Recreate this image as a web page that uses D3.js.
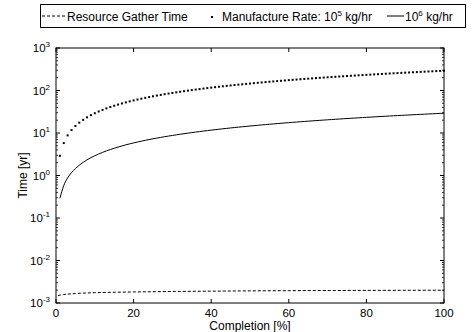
<!DOCTYPE html>
<html><head><meta charset="utf-8">
<script src="https://cdn.jsdelivr.net/npm/d3@7"></script>
<style>body{margin:0;background:#fff}svg{display:block;font-family:"Liberation Sans",Arial,sans-serif}</style>
</head><body><svg id="c" width="473" height="332"></svg>
<script>
// Completion [%] for the manufacture-rate series
const completion = d3.range(1, 101);
// Manufacture rate 10^5 kg/hr (years)
const rate1e5 = [2.9,5.8,8.8,11.7,14.6,17.5,20.4,23.4,26.3,29.2,32.1,35,38,40.9,43.8,46.7,49.6,52.6,55.5,58.4,61.3,64.2,67.2,70.1,73,75.9,78.8,81.8,84.7,87.6,90.5,93.4,96.4,99.3,102.2,105.1,108,111,113.9,116.8,119.7,122.6,125.6,128.5,131.4,134.3,137.2,140.2,143.1,146,148.9,151.8,154.8,157.7,160.6,163.5,166.4,169.4,172.3,175.2,178.1,181,184,186.9,189.8,192.7,195.6,198.6,201.5,204.4,207.3,210.2,213.2,216.1,219,221.9,224.8,227.8,230.7,233.6,236.5,239.4,242.4,245.3,248.2,251.1,254,257,259.9,262.8,265.7,268.6,271.6,274.5,277.4,280.3,283.2,286.2,289.1,292];
// Manufacture rate 10^6 kg/hr (years)
const rate1e6 = [0.29,0.58,0.88,1.17,1.46,1.75,2.04,2.34,2.63,2.92,3.21,3.5,3.8,4.09,4.38,4.67,4.96,5.26,5.55,5.84,6.13,6.42,6.72,7.01,7.3,7.59,7.88,8.18,8.47,8.76,9.05,9.34,9.64,9.93,10.22,10.51,10.8,11.1,11.39,11.68,11.97,12.26,12.56,12.85,13.14,13.43,13.72,14.02,14.31,14.6,14.89,15.18,15.48,15.77,16.06,16.35,16.64,16.94,17.23,17.52,17.81,18.1,18.4,18.69,18.98,19.27,19.56,19.86,20.15,20.44,20.73,21.02,21.32,21.61,21.9,22.19,22.48,22.78,23.07,23.36,23.65,23.94,24.24,24.53,24.82,25.11,25.4,25.7,25.99,26.28,26.57,26.86,27.16,27.45,27.74,28.03,28.32,28.62,28.91,29.2];
// Resource gather time
const gatherCompletion = [0.5,1,2,3,5,7,10,15,20,30,40,50,60,70,80,90,100];
const gatherTime = [0.00150,0.00153,0.00158,0.00162,0.00167,0.00171,0.00175,0.00179,0.00182,0.00187,0.00190,0.00193,0.00195,0.00197,0.00198,0.00199,0.00200];
const xTicks = [0,20,40,60,80,100];
const yExps = [-3,-2,-1,0,1,2,3];
const legendLabels = ["Resource Gather Time","Manufacture Rate: 10","5"," kg/hr","10","6"," kg/hr"];

const svg = d3.select("#c");
const L=56, R=444, T=48, B=303;
const x = d3.scaleLinear().domain([0,100]).range([L,R]);
const y = d3.scaleLog().domain([1e-3,1e3]).range([B,T]);

const g = svg.append("g");
g.append("rect").attr("x",L).attr("y",T).attr("width",R-L).attr("height",B-T)
 .attr("fill","none").attr("stroke","#000").attr("stroke-width",1);
xTicks.forEach(v=>{
  g.append("line").attr("x1",x(v)).attr("x2",x(v)).attr("y1",B).attr("y2",B-4).attr("stroke","#000");
  g.append("line").attr("x1",x(v)).attr("x2",x(v)).attr("y1",T).attr("y2",T+4).attr("stroke","#000");
  g.append("text").attr("x",x(v)).attr("y",B+14).attr("text-anchor","middle").attr("font-size",11.5).text(v);
});
const minor=[];
yExps.forEach(e=>{ if(e<3) for(let k=2;k<=9;k++) minor.push(k*Math.pow(10,e)); });
minor.forEach(v=>{
  [[L,L+2],[R,R-2]].forEach(([a,b])=>g.append("line").attr("x1",a).attr("x2",b).attr("y1",y(v)).attr("y2",y(v)).attr("stroke","#000").attr("stroke-width",0.8));
});
yExps.forEach(e=>{
  const v=Math.pow(10,e), yy=y(v);
  [[L,L+4],[R,R-4]].forEach(([a,b])=>g.append("line").attr("x1",a).attr("x2",b).attr("y1",yy).attr("y2",yy).attr("stroke","#000"));
  const t=g.append("text").attr("x",L-6).attr("y",yy+4).attr("text-anchor","end").attr("font-size",11.5);
  t.append("tspan").text("10");
  t.append("tspan").attr("dy",-5).attr("font-size",8).text(e);
});
g.append("text").attr("x",(L+R)/2).attr("y",B+26.5).attr("text-anchor","middle").attr("font-size",12).text("Completion [%]");
g.append("text").attr("transform",`translate(27,${(T+B)/2}) rotate(-90)`).attr("text-anchor","middle").attr("font-size",12).text("Time [yr]");

g.append("path").datum(d3.zip(gatherCompletion,gatherTime)).attr("fill","none").attr("stroke","#000")
 .attr("stroke-dasharray","3,2").attr("d",d3.line().x(d=>x(d[0])).y(d=>y(d[1])));
g.append("path").datum(d3.zip(completion,rate1e6)).attr("fill","none").attr("stroke","#000")
 .attr("d",d3.line().curve(d3.curveMonotoneX).x(d=>x(d[0])).y(d=>y(d[1])));
g.selectAll("rect.dot").data(d3.zip(completion,rate1e5)).enter().append("rect").attr("class","dot")
 .attr("x",d=>x(d[0])-1).attr("y",d=>y(d[1])-1).attr("width",2).attr("height",2).attr("fill","#000");

const lg = svg.append("g");
lg.append("rect").attr("x",40.5).attr("y",4.5).attr("width",425).attr("height",23).attr("fill","#fff").attr("stroke","#000");
lg.append("line").attr("x1",42).attr("x2",65).attr("y1",16).attr("y2",16).attr("stroke","#000").attr("stroke-dasharray","3,2");
lg.append("text").attr("x",67).attr("y",20.5).attr("font-size",12).text(legendLabels[0]);
lg.append("rect").attr("x",211).attr("y",16).attr("width",2).attr("height",2).attr("fill","#000");
const t1=lg.append("text").attr("x",222).attr("y",21).attr("font-size",12);
t1.append("tspan").text(legendLabels[1]);
t1.append("tspan").attr("dy",-5).attr("font-size",8).text(legendLabels[2]);
t1.append("tspan").attr("dy",5).text(legendLabels[3]);
lg.append("line").attr("x1",387).attr("x2",404).attr("y1",16).attr("y2",16).attr("stroke","#000");
const t2=lg.append("text").attr("x",405).attr("y",21).attr("font-size",12);
t2.append("tspan").text(legendLabels[4]);
t2.append("tspan").attr("dy",-5).attr("font-size",8).text(legendLabels[5]);
t2.append("tspan").attr("dy",5).text(legendLabels[6]);
</script></body></html>
